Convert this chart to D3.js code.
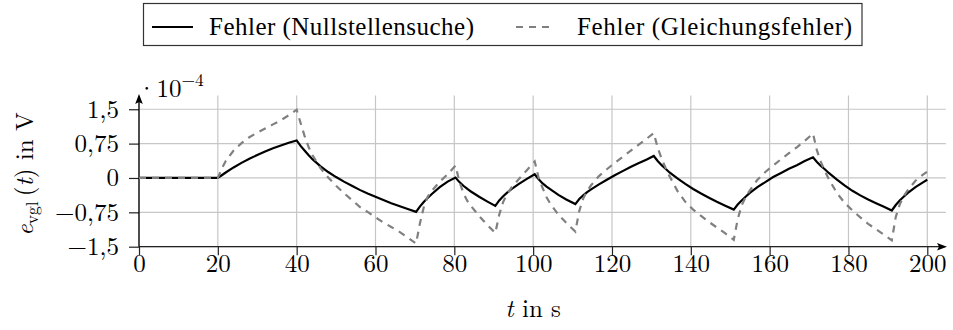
<!DOCTYPE html>
<html>
<head>
<meta charset="utf-8">
<script src="https://cdn.jsdelivr.net/npm/d3@7"></script>
<style>
  html, body { margin: 0; padding: 0; background: #fff; }
  svg { display: block; }
</style>
</head>
<body>
<svg id="chart" width="953" height="330"></svg>
<script>
// Time axis in s (shared by both error signals)
const time = [
  0, 20, 21, 22, 24, 26, 28, 30, 32, 34, 36, 38, 40,
  41, 42, 43, 44, 46, 48, 50, 52, 54, 56, 58, 60, 62, 64, 66, 68, 70.3,
  71.3, 72.3, 73.3, 74.3, 76.3, 78.3, 80.3,
  81.3, 82.3, 83.3, 84.3, 86.3, 88.3, 90.4,
  91.4, 92.4, 93.4, 94.4, 96.4, 98.4, 100.4,
  101.4, 102.4, 103.4, 104.4, 106.4, 108.4, 110.7,
  111.7, 112.7, 113.7, 114.7, 116.7, 118.7, 120.7, 122.7, 124.7, 126.7, 128.7, 130.6,
  131.6, 132.6, 133.6, 134.6, 136.6, 138.6, 140.6, 142.6, 144.6, 146.6, 148.6, 150.9,
  151.9, 152.9, 153.9, 154.9, 156.9, 158.9, 160.9, 162.9, 164.9, 166.9, 168.9, 171,
  172, 173, 174, 175, 177, 179, 181, 183, 185, 187, 189, 191,
  192, 193, 194, 195, 197, 199, 200
];

// Error from the root search, in 1e-4 V
const errNullstellen = [
  0, 0, 0.06, 0.12, 0.23, 0.33, 0.42, 0.50, 0.58, 0.65, 0.71, 0.77, 0.82,
  0.70, 0.60, 0.50, 0.41, 0.26, 0.13, 0.02, -0.08, -0.17, -0.26, -0.34, -0.41, -0.48, -0.55, -0.61, -0.67, -0.74,
  -0.62, -0.52, -0.43, -0.35, -0.20, -0.08, 0.01,
  -0.09, -0.17, -0.24, -0.30, -0.41, -0.51, -0.61,
  -0.49, -0.40, -0.32, -0.25, -0.13, -0.02, 0.08,
  -0.03, -0.12, -0.19, -0.25, -0.37, -0.47, -0.57,
  -0.46, -0.38, -0.31, -0.25, -0.14, -0.04, 0.06, 0.15, 0.24, 0.32, 0.40, 0.48,
  0.37, 0.28, 0.20, 0.12, -0.01, -0.13, -0.24, -0.34, -0.43, -0.52, -0.60, -0.69,
  -0.58, -0.49, -0.41, -0.33, -0.20, -0.09, 0.02, 0.11, 0.20, 0.28, 0.37, 0.45,
  0.35, 0.26, 0.19, 0.11, -0.03, -0.16, -0.28, -0.38, -0.47, -0.55, -0.63, -0.71,
  -0.59, -0.49, -0.41, -0.33, -0.20, -0.09, -0.04
];

// Error from the equation residual, in 1e-4 V
const errGleichung = [
  0, 0, 0.20, 0.37, 0.60, 0.76, 0.89, 0.99, 1.08, 1.17, 1.26, 1.37, 1.49,
  1.20, 0.92, 0.68, 0.50, 0.22, 0.01, -0.17, -0.33, -0.48, -0.63, -0.74, -0.86, -0.97, -1.07, -1.17, -1.29, -1.43,
  -0.98, -0.62, -0.40, -0.28, -0.08, 0.08, 0.27,
  -0.08, -0.33, -0.50, -0.62, -0.83, -1.02, -1.20,
  -0.80, -0.52, -0.35, -0.22, -0.02, 0.17, 0.36,
  0.00, -0.22, -0.42, -0.57, -0.80, -0.98, -1.17,
  -0.72, -0.45, -0.28, -0.16, 0.04, 0.19, 0.33, 0.46, 0.59, 0.72, 0.85, 0.98,
  0.66, 0.42, 0.22, 0.04, -0.28, -0.52, -0.69, -0.83, -0.96, -1.08, -1.20, -1.35,
  -0.90, -0.60, -0.42, -0.28, -0.04, 0.13, 0.27, 0.41, 0.54, 0.67, 0.81, 0.97,
  0.60, 0.35, 0.15, -0.02, -0.32, -0.54, -0.71, -0.86, -1.00, -1.12, -1.24, -1.36,
  -0.85, -0.58, -0.40, -0.27, -0.06, 0.08, 0.14
];

const seriesNames = ["Fehler (Nullstellensuche)", "Fehler (Gleichungsfehler)"];
const xTicks = [0, 20, 40, 60, 80, 100, 120, 140, 160, 180, 200];
const yTicks = [-1.5, -0.75, 0, 0.75, 1.5];
const yTickLabels = ["\u22121,5", "\u22120,75", "0", "0,75", "1,5"];

const mathFont = "'Latin Modern Roman', 'Liberation Serif', serif";
const textFont = "'Liberation Serif', 'Latin Modern Roman', serif";
const fontSize = 25;

const svg = d3.select("#chart");

const x = d3.scaleLinear().domain([0, 205]).range([139, 947]);
const y = d3.scaleLinear().domain([-1.5, 1.8]).range([246.7, 95.5]);

const gridColor = "#c6c6c6";

// grid
const grid = svg.append("g");
grid.selectAll("line.v").data(xTicks).join("line")
  .attr("x1", d => x(d)).attr("x2", d => x(d))
  .attr("y1", y(-1.5)).attr("y2", y(1.8))
  .attr("stroke", gridColor).attr("stroke-width", 1.2);
grid.selectAll("line.h").data(yTicks).join("line")
  .attr("x1", x(0)).attr("x2", x(204.7))
  .attr("y1", d => y(d)).attr("y2", d => y(d))
  .attr("stroke", gridColor).attr("stroke-width", 1.2);

// axes with ticks and labels
const xAxis = d3.axisBottom(x).tickValues(xTicks).tickSize(8.5).tickPadding(-1)
  .tickFormat(d => String(d));
const gx = svg.append("g").attr("transform", `translate(0,${y(-1.5)})`).call(xAxis);
gx.select(".domain").remove();
gx.selectAll(".tick line").attr("stroke", "#222").attr("stroke-width", 1.2);
gx.selectAll(".tick text").style("font-size", fontSize + "px")
  .style("font-family", mathFont).attr("fill", "#000");

const yAxis = d3.axisLeft(y).tickValues(yTicks).tickSize(10).tickPadding(10)
  .tickFormat((d, i) => yTickLabels[i]);
const gy = svg.append("g").attr("transform", `translate(${x(0)},0)`).call(yAxis);
gy.select(".domain").remove();
gy.selectAll(".tick line").attr("stroke", "#222").attr("stroke-width", 1.2);
gy.selectAll(".tick text").style("font-size", fontSize + "px")
  .style("font-family", mathFont).attr("fill", "#000");

// axis lines with arrow heads
const axisColor = "#222";
svg.append("line").attr("x1", x(0)).attr("x2", 940)
  .attr("y1", y(-1.5)).attr("y2", y(-1.5))
  .attr("stroke", axisColor).attr("stroke-width", 1.3);
svg.append("path")
  .attr("d", `M947,${y(-1.5)} L937,${y(-1.5) - 3.8} L939,${y(-1.5)} L937,${y(-1.5) + 3.8} Z`)
  .attr("fill", "#000");
svg.append("line").attr("x1", x(0)).attr("x2", x(0))
  .attr("y1", y(-1.5)).attr("y2", 101)
  .attr("stroke", "#000").attr("stroke-width", 1.3);
svg.append("path")
  .attr("d", `M${x(0)},94 L${x(0) - 3.8},104 L${x(0)},102 L${x(0) + 3.8},104 Z`)
  .attr("fill", "#000");

// scale factor label: ·10^−4
const sf = svg.append("text").attr("x", 137).attr("y", 97)
  .style("font-family", mathFont).style("font-size", fontSize + "px");
sf.append("tspan").text("\u00B710");
sf.append("tspan").style("font-size", "17.5px").attr("dy", -11).text("\u22124");

// curves
const rows = time.map((t, i) => ({ t, a: errNullstellen[i], b: errGleichung[i] }));
const lineA = d3.line().x(d => x(d.t)).y(d => y(d.a));
const lineB = d3.line().x(d => x(d.t)).y(d => y(d.b));

svg.append("path").datum(rows).attr("d", lineA)
  .attr("fill", "none").attr("stroke", "#000").attr("stroke-width", 2.2)
  .attr("stroke-linejoin", "miter");
svg.append("path").datum(rows).attr("d", lineB)
  .attr("fill", "none").attr("stroke", "#808080").attr("stroke-width", 2.2)
  .attr("stroke-dasharray", "7,6");

// axis titles
const xl = svg.append("text").attr("x", x(100)).attr("y", 317)
  .attr("text-anchor", "middle")
  .style("font-family", mathFont).style("font-size", fontSize + "px");
xl.append("tspan").style("font-style", "italic").text("t");
xl.append("tspan").text(" in s");

const yl = svg.append("text").attr("transform", "translate(33,174) rotate(-90)")
  .attr("text-anchor", "middle")
  .style("font-family", mathFont).style("font-size", fontSize + "px");
yl.append("tspan").style("font-style", "italic").text("e");
yl.append("tspan").style("font-size", "17.5px").attr("dy", 5).text("vgl");
yl.append("tspan").attr("dy", -5).text("\u2009(");
yl.append("tspan").style("font-style", "italic").text("t");
yl.append("tspan").text(") in V");

// legend
const legend = svg.append("g");
legend.append("rect").attr("x", 143.5).attr("y", 3.5).attr("width", 718.5).attr("height", 42)
  .attr("fill", "#fff").attr("stroke", "#333").attr("stroke-width", 1.2);
const legendItems = [
  { name: seriesNames[0], x0: 152, x1: 193, tx: 209, tw: 265, color: "#000", dash: null },
  { name: seriesNames[1], x0: 516, x1: 553, tx: 577, tw: 275, color: "#808080", dash: "7,6" }
];
legendItems.forEach(it => {
  legend.append("line").attr("x1", it.x0).attr("x2", it.x1).attr("y1", 27).attr("y2", 27)
    .attr("stroke", it.color).attr("stroke-width", 2.2)
    .attr("stroke-dasharray", it.dash);
  legend.append("text").attr("x", it.tx).attr("y", 34.5)
    .style("font-family", textFont).style("font-size", "25px")
    .attr("textLength", it.tw).attr("lengthAdjust", "spacing").text(it.name);
});
</script>
</body>
</html>
